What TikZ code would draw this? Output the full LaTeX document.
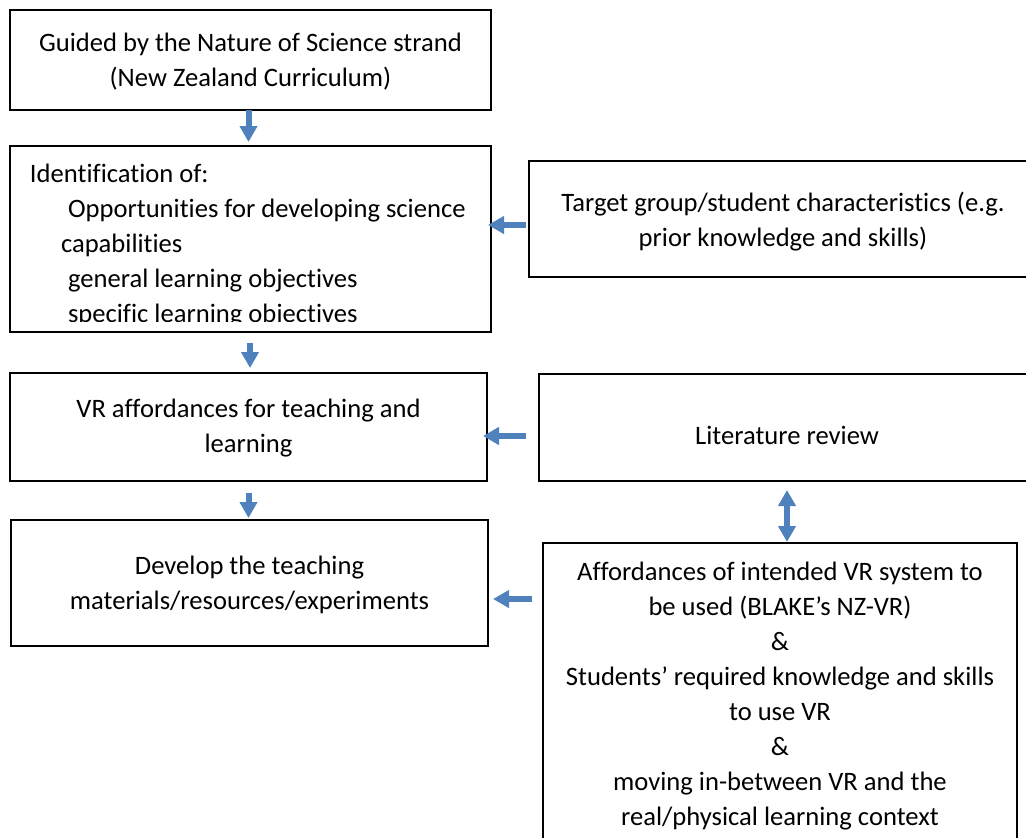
\documentclass[tikz,border=0pt]{standalone}
\usepackage{fontspec}
\setmainfont[Ligatures={NoCommon,NoContextual}]{Carlito}
\usetikzlibrary{arrows.meta,calc}
\definecolor{arrowblue}{RGB}{79,129,189}
\begin{document}
\begin{tikzpicture}[x=1pt,y=-1pt,
  box/.style={draw=black,line width=1.8pt,inner sep=0pt,outer sep=0pt,anchor=north west},
  ctext/.style={inner sep=0pt,outer sep=0pt,align=center,font=\fontsize{26.6}{35}\selectfont},
  txt/.style={inner sep=0pt,outer sep=0pt,anchor=base west,font=\fontsize{26.6}{35}\selectfont},
  blk/.style={draw=arrowblue,line width=6pt,-{Triangle[width=17pt,length=16pt]}},
  blktwo/.style={draw=arrowblue,line width=6pt,{Triangle[width=17pt,length=16pt]}-{Triangle[width=17pt,length=16pt]}}]
\useasboundingbox (0,0) rectangle (1026,838);
\clip (0,0) rectangle (1026,838);
% boxes
\node[box,minimum width=481pt,minimum height=100pt] (b1) at (10,10) {};
\node[box,minimum width=481pt,minimum height=186pt] (b2) at (10,146) {};
\node[box,minimum width=508pt,minimum height=116pt] (tg) at (529,161) {};
\node[box,minimum width=477pt,minimum height=108pt] (b3) at (10,373) {};
\node[box,minimum width=496pt,minimum height=107pt] (lr) at (539,374) {};
\node[box,minimum width=477pt,minimum height=126pt] (b4) at (11,520) {};
\node[box,minimum width=474pt,minimum height=307pt] (b5) at (543,543) {};
% texts
\node[ctext] (b1t) at ($(b1.center)+(0,2)$) {Guided by the Nature of Science strand\\(New Zealand Curriculum)};
\begin{scope}
\clip (10,146) rectangle (491,321.5);
\node[txt] (l1) at (30,182) {Identification of:};
\node[txt] (l2) at (68,217) {Opportunities for developing science};
\node[txt] (l3) at (61,252) {capabilities};
\node[txt] (l4) at (68,287) {general learning objectives};
\node[txt] (l5) at (68,322) {specific learning objectives};
\end{scope}
\node[ctext] (tgt) at ($(tg.center)+(0,3)$) {Target group/student characteristics (e.g.\\prior knowledge and skills)};
\node[ctext] (b3t) at ($(b3.center)+(0,1.5)$) {VR affordances for teaching and\\learning};
\node[ctext] (lrt) at ($(lr.center)+(0,8)$) {Literature review};
\node[ctext] (b4t) at ($(b4.center)+(0,2)$) {Develop the teaching\\materials/resources/experiments};
\node[ctext] (b5t) at (b5.center) {Affordances of intended VR system to\\be used (BLAKE’s NZ-VR)\\\&\\Students’ required knowledge and skills\\to use VR\\\&\\moving in-between VR and the\\real/physical learning context};
% arrows
\draw[blk] ($(b1.south)+(-2,0)$) -- ($(b2.north)+(-2,-4)$);
\draw[blk] ($(b2.south)+(-0.5,11)$) -- ($(b3.north)+(1.5,-5)$);
\draw[blk] ($(b3.south)+(0,12)$) -- ($(b4.north)+(-1,-2)$);
\draw[blk] ($(tg.west)+(-3,6)$) -- ($(b2.east)+(-3,-14)$);
\draw[blk] ($(lr.west)+(-13,8.5)$) -- ($(b3.east)+(-4,9)$);
\draw[blk] ($(b5.west)+(-11,-97.5)$) -- ($(b4.east)+(5,16)$);
\draw[blktwo] ($(lr.south)+(0,9)$) -- ($(b5.north)+(7,-1)$);
\end{tikzpicture}
\end{document}
